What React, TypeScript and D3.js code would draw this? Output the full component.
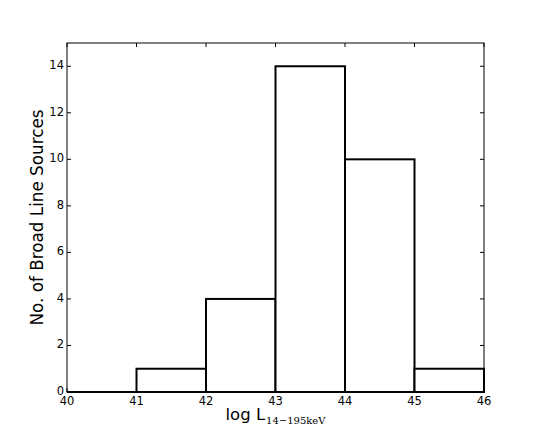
import React from "react";
import * as d3 from "d3";

// histogram bins (log L edges) and counts
const binEdges = [40, 41, 42, 43, 44, 45, 46];
const counts = [0, 1, 4, 14, 10, 1];
const xTicks = [40, 41, 42, 43, 44, 45, 46];
const yTicks = [0, 2, 4, 6, 8, 10, 12, 14];

const W = 538;
const H = 436;
const margin = { top: 43, right: 54, bottom: 44, left: 67 };

const App = () => {
  const width = W - margin.left - margin.right;
  const height = H - margin.top - margin.bottom;

  const x = d3.scaleLinear().domain([40, 46]).range([0, width]);
  const y = d3.scaleLinear().domain([0, 15]).range([height, 0]);

  const font = "DejaVu Sans, sans-serif";
  const tickLen = 4;

  return (
    <svg width={W} height={H} style={{ position: "absolute", left: 0, top: 0 }}>
      <rect width={W} height={H} fill="#fff" />
      <g transform={`translate(${margin.left},${margin.top})`}>
        {/* bars: white fill, black edge */}
        {counts.map((c, i) =>
          c > 0 ? (
            <rect
              key={"b" + i}
              x={x(binEdges[i])}
              y={y(c)}
              width={x(binEdges[i + 1]) - x(binEdges[i])}
              height={height - y(c)}
              fill="#fff"
              stroke="#000"
              strokeWidth={2}
            />
          ) : null
        )}
        {/* frame */}
        <rect x={0} y={0} width={width} height={height} fill="none" stroke="#000" strokeWidth={1} />
        <line x1={0} x2={width} y1={height} y2={height} stroke="#000" strokeWidth={2} />
        {xTicks.map((t) => (
          <g key={"x" + t}>
            <line x1={x(t)} x2={x(t)} y1={height} y2={height - tickLen} stroke="#000" />
            <line x1={x(t)} x2={x(t)} y1={0} y2={tickLen} stroke="#000" />
            <text x={x(t)} y={height + 13} textAnchor="middle" fontFamily={font} fontSize={11.5}>
              {t}
            </text>
          </g>
        ))}
        {yTicks.map((t) => (
          <g key={"y" + t}>
            <line x1={0} x2={tickLen} y1={y(t)} y2={y(t)} stroke="#000" />
            <line x1={width} x2={width - tickLen} y1={y(t)} y2={y(t)} stroke="#000" />
            <text x={-3} y={y(t) + 3} textAnchor="end" fontFamily={font} fontSize={11.5}>
              {t}
            </text>
          </g>
        ))}
        <text x={width / 2} y={height + 28} textAnchor="middle" fontFamily={font} fontSize={16.5}>
          log L
          <tspan dx={1} dy={4} fontFamily="DejaVu Serif, serif" fontSize={10}>
            14−195keV
          </tspan>
        </text>
        <text
          transform={`translate(${-24},${height / 2}) rotate(-90)`}
          textAnchor="middle"
          fontFamily={font}
          fontSize={16.8}
        >
          No. of Broad Line Sources
        </text>
      </g>
    </svg>
  );
};

export default App;
